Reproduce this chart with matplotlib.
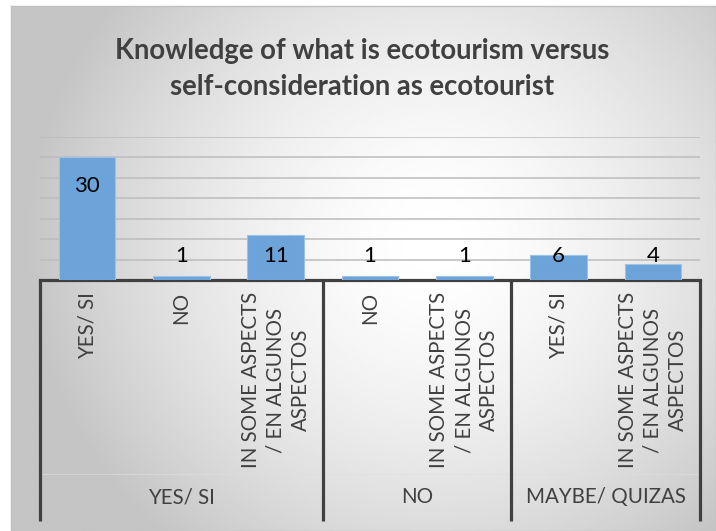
import numpy as np
import matplotlib.pyplot as plt
from matplotlib.lines import Line2D
from matplotlib.transforms import blended_transform_factory

plt.rcParams['font.family'] = ['Lato', 'DejaVu Sans']

# Data
values = [30, 1, 11, 1, 1, 6, 4]
sub_labels = ['YES/ SI', 'NO', 'IN SOME ASPECTS\n/ EN ALGUNOS\nASPECTOS',
              'NO', 'IN SOME ASPECTS\n/ EN ALGUNOS\nASPECTOS',
              'YES/ SI', 'IN SOME ASPECTS\n/ EN ALGUNOS\nASPECTOS']
group_labels = ['YES/ SI', 'NO', 'MAYBE/ QUIZAS']
group_sizes = [3, 2, 2]
title = 'Knowledge of what is ecotourism versus\nself-consideration as ecotourist'

W, H = 716, 531
fig = plt.figure(figsize=(W / 100, H / 100), dpi=100)
fig.patch.set_facecolor('white')

# Radial gradient background of the chart area
bg = fig.add_axes([11 / W, 0, (W - 11) / W, (H - 6) / H], zorder=-5)
gx = np.linspace(0, 1, 400)
gy = np.linspace(0, 1, 300)
X, Y = np.meshgrid(gx, gy)
d = np.sqrt(((X - 0.6) / 0.58) ** 2 + ((Y - 0.45) / 0.75) ** 2)
shade = 1 - 0.23 * np.clip(d, 0, 1) ** 1.6
bg.imshow(shade, cmap='gray', vmin=0, vmax=1, extent=[0, 1, 0, 1], aspect='auto', origin='upper')
bg.set_xticks([])
bg.set_yticks([])
for s in bg.spines.values():
    s.set_color('#c0c0c0')
    s.set_linewidth(1)

# Main plot area
ax = fig.add_axes([40 / W, (H - 280) / H, 660 / W, 143 / H])
ax.patch.set_alpha(0)
x = np.arange(len(values))
ax.bar(x, values, width=0.6, color='#6CA3D9', edgecolor='#9cc2e6', linewidth=0.8, zorder=3)
ax.set_xlim(-0.5, len(values) - 0.5)
ax.set_ylim(0, 35)
ax.set_yticks(np.arange(5, 36, 5))
ax.yaxis.grid(True, color='#bcbcbc', linewidth=1.1, zorder=0)
ax.tick_params(left=False, labelleft=False, bottom=False, labelbottom=False)
for side in ['left', 'right', 'top']:
    ax.spines[side].set_visible(False)
ax.spines['bottom'].set_color('#404040')
ax.spines['bottom'].set_linewidth(2.3)

# Data labels
for xi, v in zip(x, values):
    ly = v - 7 if v > 15 else 5.8
    ax.text(xi, ly, str(v), ha='center', va='center', fontsize=16, color='black', zorder=4)

# Title
fig.text(0.506, 1 - 69 / H, title, ha='center', va='center', fontsize=19.8,
         fontweight='bold', color='#404040', linespacing=1.5)

# Multi-level category axis
tr = blended_transform_factory(ax.transData, fig.transFigure)
y_top = (H - 280) / H
y_bot = (H - 521) / H
y_mid = (H - 474) / H
for xi, lab in zip(x, sub_labels):
    ax.text(xi, (H - 292) / H, lab, transform=tr, rotation=90, ha='center', va='top',
            multialignment='center', fontsize=14.8, color='#404040', linespacing=1.3)

fig.add_artist(Line2D([-0.5, len(values) - 0.5], [y_mid, y_mid], transform=tr,
                      color='#dedede', linewidth=0.6, alpha=0.7))
edges = np.concatenate([[0], np.cumsum(group_sizes)]) - 0.5
for e in edges:
    fig.add_artist(Line2D([e, e], [y_bot, y_top], transform=tr, color='#404040',
                          linewidth=2.3, solid_capstyle='butt'))
for i, g in enumerate(group_labels):
    cx = (edges[i] + edges[i + 1]) / 2
    ax.text(cx, (H - 497) / H, g, transform=tr, ha='center', va='center',
            fontsize=14.8, color='#404040')

fig.savefig('out.png', dpi=100)
